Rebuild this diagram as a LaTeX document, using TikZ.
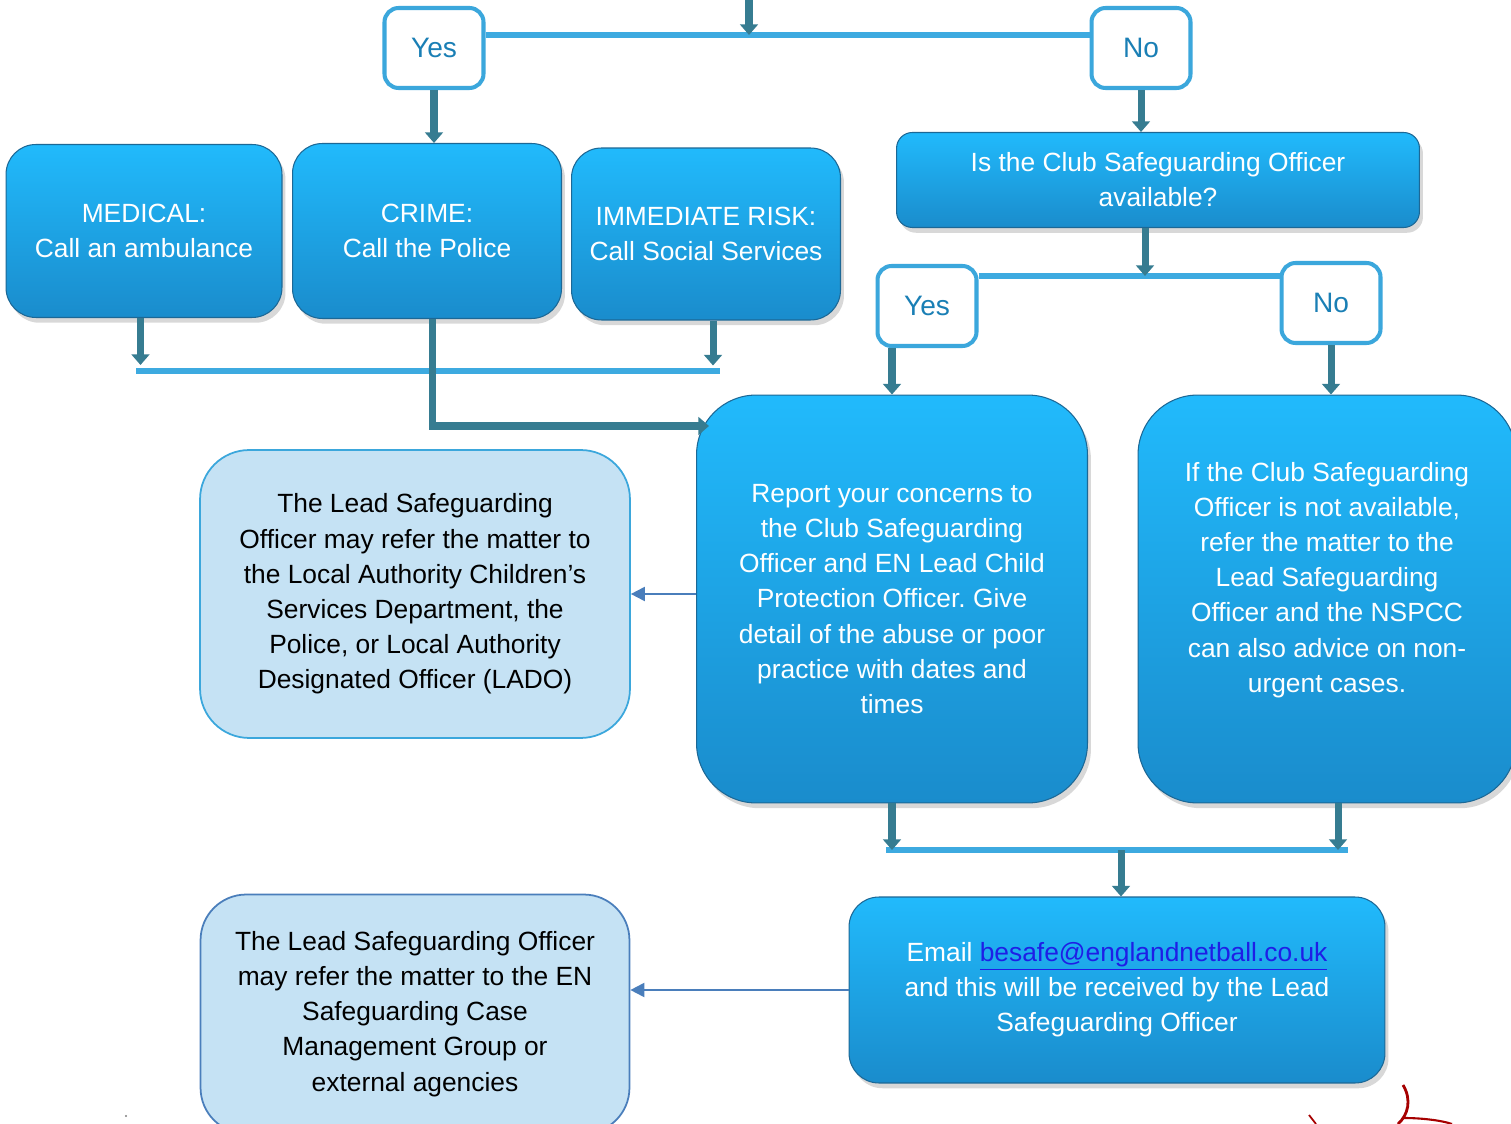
\documentclass[tikz,border=0pt]{standalone}
\usepackage{fontspec}
\setmainfont{Liberation Sans}
\usetikzlibrary{arrows.meta}
\usetikzlibrary{shadows}
\frenchspacing

\definecolor{boxtop}{RGB}{33,186,252}
\definecolor{boxbottom}{RGB}{26,140,204}
\definecolor{boxedge}{RGB}{28,104,150}
\definecolor{answeredge}{RGB}{59,167,220}
\definecolor{answertext}{RGB}{26,127,181}
\definecolor{flowteal}{RGB}{54,124,145}
\definecolor{barblue}{RGB}{61,170,224}
\definecolor{notefill}{RGB}{197,226,244}
\definecolor{noteedge}{RGB}{74,126,187}
\definecolor{linkblue}{RGB}{30,30,230}

\tikzset{
  bluebox/.style={rectangle, rounded corners=17pt, top color=boxtop, bottom color=boxbottom,
    draw=boxedge, line width=0.6pt, text=white, align=center, font=\fontsize{15}{20}\selectfont,
    drop shadow={shadow xshift=2pt, shadow yshift=-3pt, opacity=0.3}},
  answerbox/.style={rectangle, rounded corners=8pt, fill=white, draw=answeredge, line width=2.3pt,
    text=answertext, font=\fontsize{16}{20}\selectfont, minimum width=1.98cm, minimum height=1.6cm},
  notebox/.style={rectangle, fill=notefill, draw=answeredge, line width=1pt, text=black,
    align=center, font=\fontsize{15}{20}\selectfont},
  flowarrow/.style={draw=flowteal, line width=4pt, -{Triangle[width=10pt,length=6pt]}},
  barline/.style={draw=barblue, line width=3.4pt},
  notearrow/.style={draw=noteedge, line width=1.1pt, -{Triangle[width=8pt,length=8pt]}},
}

\begin{document}
\begin{tikzpicture}[x=0.02cm,y=-0.02cm]
    \fill[white] (0,0) rectangle (1511,1124);
    \useasboundingbox (0,0) rectangle (1511,1124);

    % first answers
    \node[answerbox] (yesA) at (434,48) {Yes};
    \node[answerbox] (noA) at (1141,48) {No};

    % emergency boxes
    \node[bluebox, minimum width=5.52cm, minimum height=3.46cm] (medical) at (144,231) {MEDICAL:\\Call an ambulance};
    \node[bluebox, minimum width=5.38cm, minimum height=3.5cm] (crime) at (427,231) {CRIME:\\Call the Police};
    \node[bluebox, minimum width=5.38cm, minimum height=3.44cm] (risk) at (706,234) {IMMEDIATE RISK:\\Call Social Services};

    % club officer question
    \node[bluebox, rounded corners=9pt, minimum width=10.46cm, minimum height=1.9cm] (clubq) at (1158,180) {Is the Club Safeguarding Officer\\available?};
    \node[answerbox] (yesB) at (927,306) {Yes};
    \node[answerbox] (noB) at (1331,303) {No};

    % reporting boxes
    \node[bluebox, rounded corners=34pt, minimum width=7.82cm, minimum height=8.16cm] (report) at (892,599)
      {Report your concerns to\\the Club Safeguarding\\Officer and EN Lead Child\\Protection Officer. Give\\detail of the abuse or poor\\practice with dates and\\times};
    \node[bluebox, rounded corners=34pt, minimum width=7.56cm, minimum height=8.16cm] (nspcc) at (1327,599) {};
    \node[text=white, align=center, font=\fontsize{15}{20}\selectfont] (nspcctext) at (1327,580)
      {If the Club Safeguarding\\Officer is not available,\\refer the matter to the\\Lead Safeguarding\\Officer and the NSPCC\\can also advice on non-\\urgent cases.};

    \node[bluebox, minimum width=10.72cm, minimum height=3.72cm] (email) at (1117,990)
      {Email {\color{linkblue}\underline{besafe@englandnetball.co.uk}}\\and this will be received by the Lead\\Safeguarding Officer};

    % notes on the left
    \node[notebox, rounded corners=28pt, minimum width=8.6cm, minimum height=5.76cm] (ladonote) at (415,594)
      {The Lead Safeguarding\\Officer may refer the matter to\\the Local Authority Children’s\\Services Department, the\\Police, or Local Authority\\Designated Officer (LADO)};
    \node[notebox, draw=noteedge, rounded corners=26pt, minimum width=8.58cm, minimum height=4.78cm] (casenote) at (415,1014)
      {The Lead Safeguarding Officer\\may refer the matter to the EN\\Safeguarding Case\\Management Group or\\external agencies};

    % top connectors
    \coordinate (topin) at (749,-10);
    \coordinate (barT) at (749,35);
    \draw[barline] (yesA.east |- barT) -- (noA.west |- barT);
    \draw[flowarrow] (topin) -- (barT);
    \draw[flowarrow] (yesA.south) -- (yesA.south |- crime.north);
    \draw[flowarrow] (noA.south) -- (noA.south |- clubq.north);

    % club officer answers
    \coordinate (barB) at (1145,276);
    \draw[barline] (yesB.east |- barB) -- (noB.west |- barB);
    \draw[flowarrow] (barB |- clubq.south) -- (barB);
    \draw[flowarrow] (report.north |- yesB.south) -- (report.north);
    \draw[flowarrow] (noB.south) -- (noB.south |- nspcc.north);

    % emergency joins
    \coordinate (barAl) at (136,371);
    \coordinate (barAr) at (720,371);
    \coordinate (reportin) at (709,426);
    \draw[barline] (barAl) -- (barAr);
    \draw[flowarrow] ([xshift=-2pt]medical.south) -- ++(0,47);
    \draw[flowarrow] ([xshift=4pt]risk.south) -- ++(0,45);
    \draw[flowarrow] ([xshift=3pt]crime.south) |- (reportin);

    % down to email
    \coordinate (barCl) at (886,850);
    \coordinate (barCr) at (1348,850);
    \coordinate (barC) at (1121,850);
    \coordinate (nspccout) at (1338,803);
    \draw[barline] (barCl) -- (barCr);
    \draw[flowarrow] (report.south) -- (report.south |- barC);
    \draw[flowarrow] (nspccout) -- (nspccout |- barC);
    \draw[flowarrow] (barC) -- (barC |- email.north);

    % side notes
    \draw[notearrow] (report.west |- ladonote.east) -- (ladonote.east);
    \draw[notearrow] (email.west) -- (email.west -| casenote.east);

    % logo fragments
    \draw[red!65!black, line width=1.6pt] (1403,1085) .. controls (1412,1100) and (1408,1115) .. (1398,1124);
    \draw[red!65!black, line width=1.2pt] (1404,1118) .. controls (1420,1118) and (1440,1120) .. (1452,1124);
    \draw[red!65!black, line width=1pt] (1309,1115) -- (1316,1124);
    \fill[gray] (126,1116) circle (1.2);
\end{tikzpicture}
\end{document}
